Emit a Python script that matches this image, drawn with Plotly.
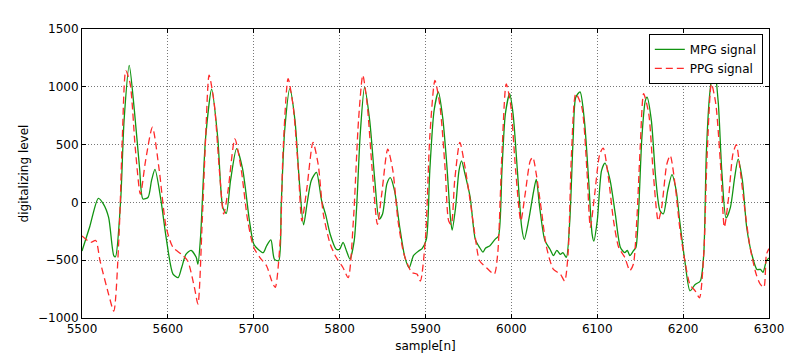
import plotly.graph_objects as go

mpg_x = [5500, 5509, 5519, 5525, 5531, 5537, 5539, 5545, 5549, 5555, 5561, 5567, 5571, 5577, 5581, 5585,
         5592, 5598, 5606, 5612, 5616, 5621, 5627, 5633, 5635, 5638, 5644, 5651, 5658, 5664, 5668, 5673,
         5680, 5687, 5695, 5700, 5705, 5711, 5715, 5720, 5724, 5729, 5732, 5736, 5742, 5748, 5753, 5758,
         5762, 5767, 5773, 5779, 5784, 5789, 5796, 5800, 5804, 5808, 5812, 5817, 5820, 5824, 5829, 5835,
         5841, 5846, 5850, 5855, 5859, 5864, 5870, 5876, 5881, 5886, 5892, 5896, 5901, 5905, 5910, 5915,
         5920, 5925, 5929, 5931, 5935, 5939, 5942, 5946, 5952, 5958, 5963, 5967, 5970, 5975, 5981, 5985,
         5989, 5993, 5998, 6002, 6007, 6012, 6015, 6020, 6026, 6029, 6033, 6039, 6045, 6049, 6053, 6057,
         6060, 6064, 6068, 6072, 6075, 6080, 6085, 6090, 6094, 6096, 6100, 6105, 6109, 6115, 6121, 6127,
         6132, 6135, 6138, 6142, 6145, 6148, 6152, 6156, 6158, 6163, 6168, 6173, 6177, 6182, 6187, 6192,
         6196, 6202, 6208, 6214, 6220, 6224, 6227, 6231, 6236, 6241, 6245, 6250, 6255, 6260, 6264, 6269,
         6274, 6280, 6286, 6290, 6293, 6297, 6300]
mpg_y = [-420, -210, 35, -15, -130, -460, -470, 15, 710, 1185, 795, 300, 30, 45, 190, 285,
         15, -305, -620, -650, -565, -450, -415, -475, -535, -305, 565, 980, 565, -45, -95, 190,
         465, 290, -160, -360, -405, -435, -375, -325, -490, -505, -15, 620, 985, 710, 190, -195,
         -15, 190, 260, 15, -115, -275, -405, -405, -345, -420, -490, -330, -15, 590, 995, 710,
         190, -145, -100, 160, 215, 100, -215, -475, -565, -460, -420, -400, -320, 275, 795, 955,
         735, 305, -130, -240, -45, 275, 360, 245, 45, -320, -390, -430, -395, -375, -320, -290,
         275, 765, 940, 765, 275, -215, -320, -160, 100, 200, -45, -330, -405, -460, -415, -450,
         -435, -475, -160, 565, 910, 955, 710, 190, -275, -335, -160, 275, 340, 190, -100, -390,
         -435, -415, -460, -420, -390, -100, 565, 880, 910, 710, 215, -70, -100, 100, 240, 100,
         -160, -505, -765, -710, -680, -450, 420, 940, 1190, 855, 275, -135, -45, 215, 375, 190,
         -215, -450, -580, -580, -605, -505, -480]

ppg_x = [5500, 5510, 5516, 5521, 5531, 5537, 5543, 5547, 5551, 5556, 5562, 5568, 5574, 5582, 5590, 5598,
         5606, 5616, 5623, 5631, 5635, 5640, 5644, 5648, 5654, 5660, 5665, 5670, 5678, 5685, 5693, 5700,
         5707, 5715, 5721, 5725, 5731, 5734, 5740, 5746, 5752, 5756, 5762, 5769, 5775, 5781, 5789, 5796,
         5804, 5810, 5816, 5822, 5827, 5832, 5838, 5844, 5849, 5856, 5862, 5868, 5875, 5884, 5890, 5894,
         5900, 5905, 5911, 5917, 5923, 5927, 5930, 5934, 5940, 5946, 5952, 5958, 5963, 5971, 5980, 5984,
         5989, 5994, 5999, 6005, 6011, 6016, 6022, 6025, 6029, 6035, 6041, 6049, 6057, 6062, 6066, 6070,
         6075, 6082, 6088, 6092, 6097, 6103, 6107, 6113, 6119, 6125, 6132, 6138, 6142, 6146, 6150, 6154,
         6160, 6165, 6171, 6175, 6181, 6185, 6191, 6196, 6202, 6208, 6214, 6219, 6224, 6228, 6233, 6238,
         6244, 6248, 6253, 6258, 6262, 6266, 6272, 6278, 6285, 6290, 6294, 6297, 6300]
ppg_y = [-290, -345, -330, -505, -795, -940, -305, 565, 1140, 1030, 475, 70, 360, 650, 275, -215,
         -390, -450, -505, -740, -880, -160, 565, 1100, 855, 275, -100, 100, 550, 305, -160, -390,
         -475, -550, -680, -735, -305, 420, 1070, 825, 275, -160, 130, 520, 330, -100, -360, -475,
         -565, -650, -160, 710, 1100, 855, 275, -190, 70, 460, 275, -160, -450, -605, -620, -680,
         -305, 565, 1055, 825, 275, -160, -190, 190, 520, 305, 15, -305, -505, -565, -620, -450,
         420, 1025, 855, 275, -160, 70, 360, 390, 245, -70, -390, -580, -620, -680, -450, 420,
         940, 825, 275, -215, 70, 420, 470, 215, -160, -390, -475, -590, -535, -160, 475, 940,
         765, 275, -160, -45, 330, 405, 130, -215, -505, -710, -765, -825, -450, 420, 1025, 855,
         275, -215, 45, 420, 500, 305, -70, -390, -620, -710, -735, -450, -400]

x_ticks = [5500, 5600, 5700, 5800, 5900, 6000, 6100, 6200, 6300]
y_ticks = [-1000, -500, 0, 500, 1000, 1500]

fig = go.Figure()
fig.add_trace(go.Scatter(x=mpg_x, y=mpg_y, mode="lines", name="MPG signal",
                         line=dict(color="#119411", width=1.3, shape="spline", smoothing=0.7)))
fig.add_trace(go.Scatter(x=ppg_x, y=ppg_y, mode="lines", name="PPG signal",
                         line=dict(color="#ff2a2a", width=1.3, dash="7px,4px", shape="spline", smoothing=0.7)))

axis_common = dict(showline=True, linecolor="black", linewidth=1, mirror="allticks",
                   ticks="inside", ticklen=4, tickcolor="black", automargin=False,
                   showgrid=True, gridcolor="#777777", griddash="1px,2px", gridwidth=1,
                   zeroline=False, tickfont=dict(family="DejaVu Sans", size=12, color="black"))

# page body has an 8px default margin, so the figure is sized/offset to compensate
fig.update_layout(
    width=793, height=348,
    margin=dict(l=74, r=32, t=21, b=38),
    paper_bgcolor="white", plot_bgcolor="white",
    font=dict(family="DejaVu Sans", size=12, color="black"),
    xaxis=dict(range=[5500, 6300], tickvals=x_ticks, ticktext=[str(v) for v in x_ticks],
               title=dict(text="sample[n]", standoff=6, font=dict(size=12)), **axis_common),
    yaxis=dict(range=[-1000, 1500], tickvals=y_ticks,
               ticktext=[("\u2212" + str(-v)) if v < 0 else str(v) for v in y_ticks],
               title=dict(text="digitalizing level", standoff=6, font=dict(size=12)), **axis_common),
    legend=dict(x=0.991, y=0.983, xanchor="right", yanchor="top",
                bordercolor="black", borderwidth=1, bgcolor="white",
                font=dict(family="DejaVu Sans", size=12), tracegroupgap=0),
    showlegend=True,
)

fig.write_html("out.html")
